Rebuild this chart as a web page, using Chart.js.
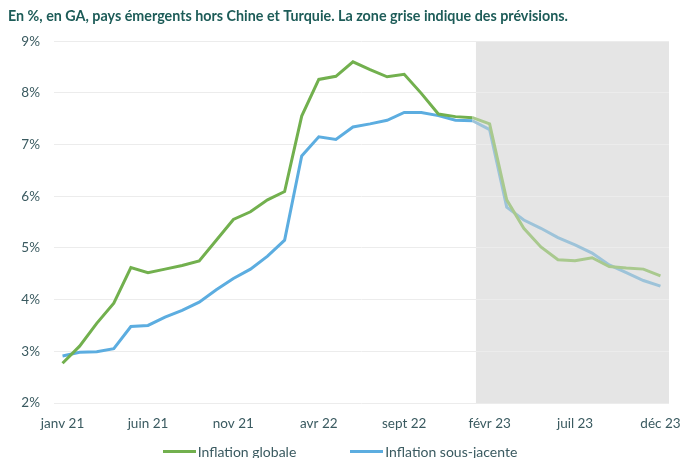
<!DOCTYPE html>
<html lang="fr">
<head>
<meta charset="utf-8">
<script src="https://cdn.jsdelivr.net/npm/chart.js@4"></script>
<style>
  html, body { margin: 0; padding: 0; background: #fff; overflow: hidden; }
  #wrap { position: relative; width: 680px; height: 458px; }
  #legend { position: absolute; left: 0; right: 0; top: 443px; display: flex; justify-content: center;
            font-family: Lato, "Open Sans", sans-serif; font-size: 14px; color: #3a5a60; }
  .item { display: flex; align-items: center; margin: 0 27px; }
  .swatch { width: 33px; height: 3px; margin-right: 2px; }
</style>
</head>
<body>
<div id="wrap">
  <canvas id="c" width="680" height="458"></canvas>
  <div id="legend"></div>
</div>
<script>
// Monthly categories, janv 21 – déc 23
const months = [
  'janv 21','févr 21','mars 21','avr 21','mai 21','juin 21','juil 21','août 21','sept 21','oct 21','nov 21','déc 21',
  'janv 22','févr 22','mars 22','avr 22','mai 22','juin 22','juil 22','août 22','sept 22','oct 22','nov 22','déc 22',
  'janv 23','févr 23','mars 23','avr 23','mai 23','juin 23','juil 23','août 23','sept 23','oct 23','nov 23','déc 23'
];
// Inflation globale (%, GA)
const inflationGlobale = [
  2.77, 3.10, 3.54, 3.93, 4.62, 4.52, 4.59, 4.66, 4.75, 5.15, 5.55, 5.70,
  5.93, 6.09, 7.55, 8.26, 8.32, 8.60, 8.45, 8.31, 8.36, 7.99, 7.59, 7.54,
  7.52, 7.40, 5.93, 5.38, 5.02, 4.77, 4.75, 4.81, 4.64, 4.61, 4.59, 4.46
];
// Inflation sous-jacente (%, GA)
const inflationSousJacente = [
  2.91, 2.98, 2.99, 3.05, 3.48, 3.50, 3.66, 3.79, 3.95, 4.19, 4.41, 4.59,
  4.84, 5.15, 6.78, 7.15, 7.10, 7.34, 7.40, 7.47, 7.62, 7.62, 7.56, 7.47,
  7.46, 7.29, 5.79, 5.54, 5.38, 5.20, 5.06, 4.90, 4.67, 4.52, 4.37, 4.26
];
// Category labels shown on the x axis
const shownTicks = ['janv 21','juin 21','nov 21','avr 22','sept 22','févr 23','juil 23','déc 23'];
// First forecast month (grey zone)
const forecastStart = 'janv 23';
const yTicks = [2, 3, 4, 5, 6, 7, 8, 9];

const series = [
  { label: 'Inflation globale', data: inflationGlobale, color: '#72b04e', light: '#a9c98e' },
  { label: 'Inflation sous-jacente', data: inflationSousJacente, color: '#5cade0', light: '#9dc3d9' }
];

const fcIndex = months.indexOf(forecastStart);
const FONT = 'Lato, "Open Sans", sans-serif';

const forecastZone = {
  id: 'forecastZone',
  beforeDraw(chart) {
    const { ctx, chartArea, scales } = chart;
    const x = scales.x;
    const step = x.getPixelForValue(1) - x.getPixelForValue(0);
    const left = x.getPixelForValue(fcIndex) + step * 0.2;
    ctx.save();
    ctx.fillStyle = '#e5e5e5';
    ctx.fillRect(left, chartArea.top, chartArea.right - left, chartArea.bottom - chartArea.top);
    ctx.restore();
  }
};

new Chart(document.getElementById('c'), {
  type: 'line',
  data: {
    labels: months,
    datasets: series.map(s => ({
      label: s.label,
      data: s.data,
      borderColor: s.color,
      borderWidth: 3,
      pointRadius: 0,
      tension: 0,
      fill: false,
      segment: {
        borderColor: c => c.p0DataIndex >= fcIndex ? s.light : s.color
      }
    }))
  },
  options: {
    responsive: false,
    animation: false,
    layout: { padding: { left: 8, right: 11, top: 0, bottom: 0 } },
    plugins: {
      legend: { display: false },
      tooltip: { enabled: false },
      title: {
        display: true,
        text: 'En %, en GA, pays émergents hors Chine et Turquie. La zone grise indique des prévisions.',
        align: 'start',
        color: '#1d5c58',
        font: { family: FONT, size: 14.3, weight: 'bold' },
        padding: { top: 8, bottom: 16 }
      }
    },
    scales: {
      x: {
        offset: true,
        grid: { display: false, drawTicks: false },
        border: { display: false },
        ticks: {
          autoSkip: false,
          maxRotation: 0,
          padding: 13,
          color: '#3a5a60',
          font: { family: FONT, size: 13.5 },
          callback: function (v) {
            const l = this.getLabelForValue(v);
            return shownTicks.includes(l) ? l : '';
          }
        },
        afterFit: s => { s.height = 55; s.paddingLeft = 0; s.paddingRight = 0; }
      },
      y: {
        min: 2, max: 9,
        afterBuildTicks: s => { s.ticks = yTicks.map(v => ({ value: v })); },
        grid: { color: '#ececec', lineWidth: 1, drawTicks: false },
        border: { display: false },
        ticks: {
          padding: 14,
          color: '#3a5a60',
          font: { family: FONT, size: 13.5 },
          callback: v => v + '%'
        },
        afterFit: s => { s.width = 46; }
      }
    }
  },
  plugins: [forecastZone]
});

// Legend
const legend = document.getElementById('legend');
series.forEach(s => {
  const item = document.createElement('div');
  item.className = 'item';
  const sw = document.createElement('span');
  sw.className = 'swatch';
  sw.style.background = s.color;
  const tx = document.createElement('span');
  tx.textContent = s.label;
  item.appendChild(sw);
  item.appendChild(tx);
  legend.appendChild(item);
});
</script>
</body>
</html>
